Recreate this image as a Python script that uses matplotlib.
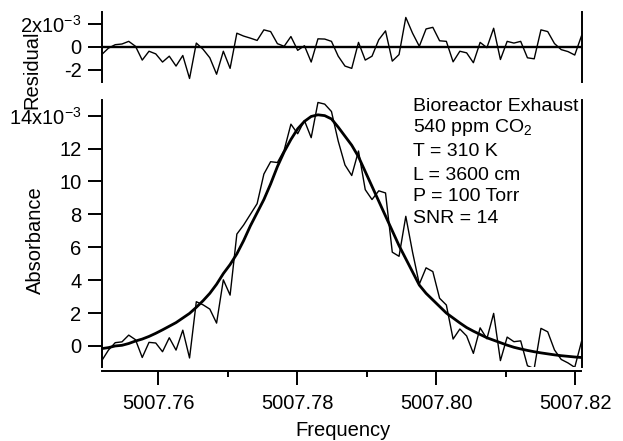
import numpy as np
import matplotlib
matplotlib.use('Agg')
import matplotlib.pyplot as plt
from matplotlib.ticker import MultipleLocator

plt.rcParams['font.family'] = ['Liberation Sans', 'DejaVu Sans']
plt.rcParams['mathtext.fontset'] = 'custom'
plt.rcParams['mathtext.rm'] = 'Liberation Sans'
plt.rcParams['mathtext.it'] = 'Liberation Sans:italic'

# frequency axis of the spectrum (evenly sampled, 72 points)
freq = np.linspace(5007.7519, 5007.8209, 72)

# measured absorbance (x10^-3)
absorb = [-0.9, -0.25, 0.2, 0.25, 0.66, 0.38, -0.7, 0.22, 0.18, -0.35,
          0.5, -0.25, 0.96, -0.73, 2.69, 2.5, 2.24, 1.39, 4.02, 3.09,
          6.8, 7.35, 8.0, 8.65, 10.45, 11.2, 11.15, 11.9, 13.48, 12.9,
          13.7, 12.66, 14.8, 14.7, 14.25, 12.45, 11.0, 10.36, 11.85, 9.5,
          8.9, 9.43, 9.3, 5.7, 5.45, 7.88, 5.7, 3.76, 4.75, 4.52,
          2.9, 2.49, 0.42, 1.03, 0.61, -0.45, 1.1, 0.44, 1.98, -0.89,
          0.54, 0.26, 0.31, -1.2, -1.38, 1.07, 0.86, -0.24, -0.82, -1.03,
          -1.3, 0.27]

# fitted profile (x10^-3)
fit = [-0.16, -0.1, 0.0, 0.04, 0.15, 0.3, 0.42, 0.58, 0.77, 0.98,
       1.2, 1.42, 1.7, 1.98, 2.35, 2.75, 3.2, 3.75, 4.4, 4.95,
       5.6, 6.4, 7.3, 8.1, 8.9, 9.85, 10.9, 11.8, 12.55, 13.2,
       13.65, 13.95, 14.05, 14.0, 13.8, 13.3, 12.75, 12.2, 11.5, 10.6,
       9.7, 8.8, 7.9, 7.0, 6.1, 5.3, 4.5, 3.7, 3.2, 2.8,
       2.4, 2.0, 1.7, 1.4, 1.12, 0.9, 0.7, 0.5, 0.35, 0.2,
       0.05, -0.08, -0.18, -0.27, -0.35, -0.42, -0.48, -0.54, -0.59, -0.63,
       -0.67, -0.7]

# residual (x10^-3)
resid = [-0.66, -0.1, 0.2, 0.26, 0.49, 0.06, -1.14, -0.37, -0.6, -1.31,
         -0.8, -1.66, -0.74, -2.74, 0.34, -0.2, -0.94, -2.37, -0.37, -1.86,
         1.2, 0.95, 0.77, 0.57, 1.49, 1.34, 0.29, 0.06, 0.91, -0.29,
         0.11, -1.31, 0.71, 0.69, 0.49, -0.8, -1.66, -1.86, 0.4, -1.14,
         -0.8, 0.63, 1.4, -1.23, -0.66, 2.57, 1.2, 0.06, 1.57, 1.71,
         0.54, 0.49, -1.29, -0.37, -0.51, -1.37, 0.4, -0.06, 1.63, -1.09,
         0.49, 0.34, 0.49, -0.94, -1.03, 1.49, 1.34, 0.3, -0.23, -0.4,
         -0.7, 0.97]

x_ticks = [5007.76, 5007.78, 5007.80, 5007.82]
x_ticklabels = ['5007.76', '5007.78', '5007.80', '5007.82']
main_yticks = [0, 2, 4, 6, 8, 10, 12, 14]
main_yticklabels = ['0', '2', '4', '6', '8', '10', '12', '14x10$^{-3}$']
res_yticks = [-2, 0, 2]
res_yticklabels = ['-2', '0', '2x10$^{-3}$']

info_lines = ['Bioreactor Exhaust', '540 ppm CO$_2$', 'T = 310 K',
              'L = 3600 cm', 'P = 100 Torr', 'SNR = 14']

W, H = 623, 441
fig = plt.figure(figsize=(W / 100, H / 100), dpi=100)

left, right = 101.7, 581.5
ax_res = fig.add_axes([left / W, 1 - 81.7 / H, (right - left) / W, 70 / H])
ax = fig.add_axes([left / W, 1 - 366.7 / H, (right - left) / W, 266.7 / H])

fs = 14.5
spine_lw = 1.4

# residual panel
ax_res.plot(freq, resid, color='k', lw=1.0)
ax_res.axhline(0, color='k', lw=1.7)
ax_res.set_xlim(5007.7519, 5007.8209)
ax_res.set_ylim(-3.02, 3.07)
ax_res.spines['top'].set_visible(False)
ax_res.spines['bottom'].set_visible(False)
ax_res.set_xticks([])
ax_res.set_yticks(res_yticks)
ax_res.set_yticklabels(res_yticklabels)

# main panel
ax.plot(freq, absorb, color='k', lw=1.0)
ax.plot(freq, fit, color='k', lw=2.0)
ax.set_xlim(5007.7519, 5007.8209)
ax.set_ylim(-1.26, 14.95)
ax.spines['top'].set_visible(False)
ax.spines['bottom'].set_position(('outward', 3))
ax.set_xticks(x_ticks)
ax.set_xticklabels(x_ticklabels)
ax.xaxis.set_minor_locator(MultipleLocator(0.01))
ax.set_yticks(main_yticks)
ax.set_yticklabels(main_yticklabels)

for a in (ax, ax_res):
    for s in a.spines.values():
        s.set_linewidth(spine_lw)
    a.tick_params(axis='y', which='major', direction='out', length=10,
                  width=spine_lw, pad=4.5, labelsize=fs, right=False)
    a.patch.set_alpha(0)
ax.tick_params(axis='x', which='major', direction='out', length=10,
               width=spine_lw, pad=6.5, labelsize=fs, top=False)
ax.tick_params(axis='x', which='minor', direction='out', length=4.5,
               width=spine_lw, top=False)

# annotation block
base_y = [0.960, 0.881, 0.791, 0.700, 0.622, 0.540]
for txt, yy in zip(info_lines, base_y):
    ax.text(0.649, yy, txt, transform=ax.transAxes, fontsize=14,
            ha='left', va='baseline')

fig.text(343 / W, 1 - 430 / H, 'Frequency', fontsize=fs, ha='center', va='center')
fig.text(35 / W, 1 - 240 / H, 'Absorbance', fontsize=fs, ha='center',
         va='center', rotation=90)
fig.text(32 / W, 1 - 70 / H, 'Residual', fontsize=fs, ha='center',
         va='center', rotation=90)

fig.savefig('out.png', dpi=100)
